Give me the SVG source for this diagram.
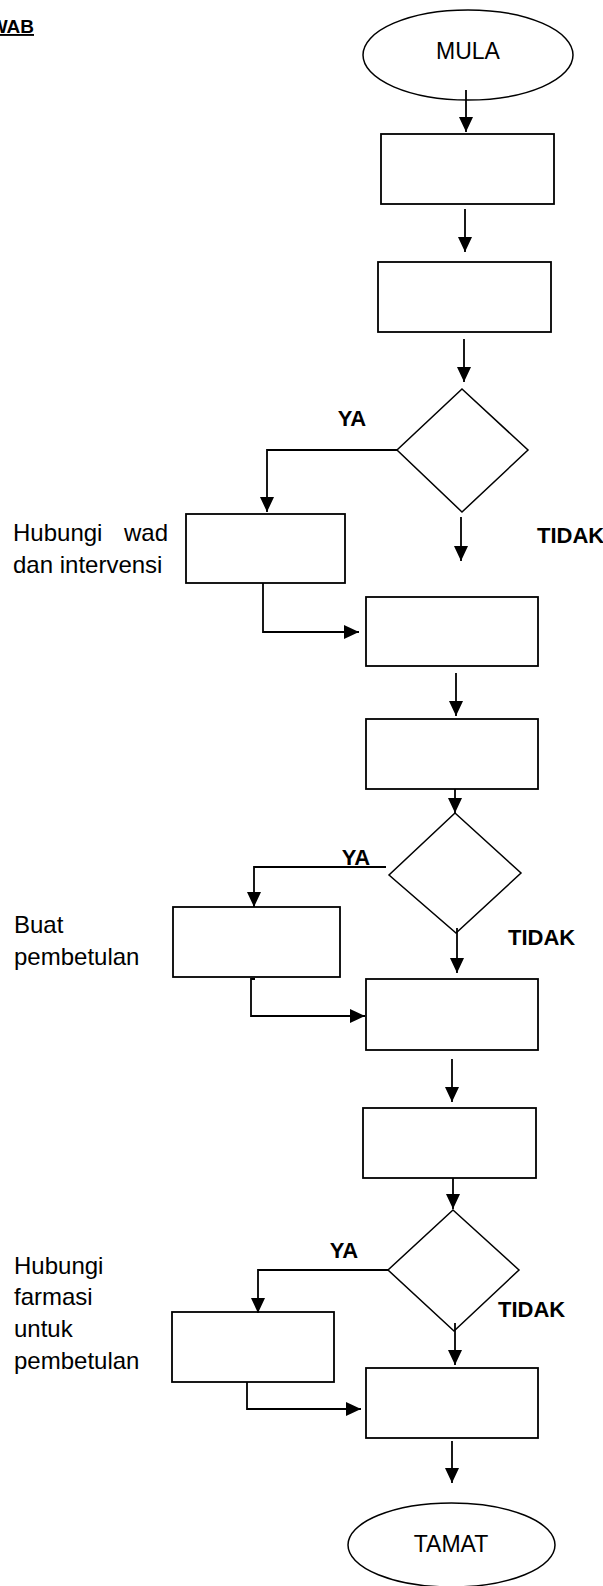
<svg xmlns="http://www.w3.org/2000/svg" width="603" height="1586" viewBox="0 0 603 1586">
<style>
.box{fill:#fff;stroke:#000;stroke-width:1.8}
.dia{fill:#fff;stroke:#000;stroke-width:1.5}
.term{fill:#fff;stroke:#000;stroke-width:1.5}
.con{fill:none;stroke:#000;stroke-width:1.8}
.t{font-family:"Liberation Sans",Arial,sans-serif;font-size:23px;fill:#000}
.side{font-family:"Liberation Sans",Arial,sans-serif;font-size:24px;fill:#000}
.b{font-family:"Liberation Sans",Arial,sans-serif;font-size:22px;font-weight:bold;fill:#000}
</style>
<defs>
<marker id="ah" markerUnits="userSpaceOnUse" markerWidth="16" markerHeight="15" refX="15" refY="7" orient="auto">
<path d="M0,0 L15,7 L0,14 z" fill="#000"/>
</marker>
</defs>
<rect width="603" height="1586" fill="#fff"/>
<text class="b" x="34" y="33" text-anchor="end" style="font-size:19px;text-decoration:underline">JAWAB</text>

<g id="mula"><ellipse class="term" cx="468" cy="55" rx="105" ry="45"/><text class="t" x="468" y="59" text-anchor="middle">MULA</text></g>
<g id="p1"><rect class="box" x="381" y="134" width="173" height="70"/></g>
<g id="p2"><rect class="box" x="378" y="262" width="173" height="70"/></g>
<g id="d1"><polygon class="dia" points="462,389 528,450 462,512 397,450"/></g>
<g id="hubungi-wad"><rect class="box" x="186" y="514" width="159" height="69"/></g>
<g id="p3"><rect class="box" x="366" y="597" width="172" height="69"/></g>
<g id="p4"><rect class="box" x="366" y="719" width="172" height="70"/></g>
<g id="d2"><polygon class="dia" points="455,813 521,873 456,933 389,875"/></g>
<g id="buat"><rect class="box" x="173" y="907" width="167" height="70"/></g>
<g id="p5"><rect class="box" x="366" y="979" width="172" height="71"/></g>
<g id="p6"><rect class="box" x="363" y="1108" width="173" height="70"/></g>
<g id="d3"><polygon class="dia" points="453,1210 519,1270 454,1331 388,1270"/></g>
<g id="hubungi-farmasi"><rect class="box" x="172" y="1312" width="162" height="70"/></g>
<g id="p7"><rect class="box" x="366" y="1368" width="172" height="70"/></g>
<g id="tamat"><ellipse class="term" cx="451.5" cy="1545" rx="103.5" ry="42"/><text class="t" x="451" y="1552" text-anchor="middle">TAMAT</text></g>

<g id="labels">
<text class="side" x="13" y="541">Hubungi</text>
<text class="side" x="168" y="541" text-anchor="end">wad</text>
<text class="side" x="13" y="573">dan intervensi</text>
<text class="side" x="14" y="933">Buat</text>
<text class="side" x="14" y="965">pembetulan</text>
<text class="side" x="14" y="1274">Hubungi</text>
<text class="side" x="14" y="1305">farmasi</text>
<text class="side" x="14" y="1337">untuk</text>
<text class="side" x="14" y="1369">pembetulan</text>
<text class="b" x="352" y="426" text-anchor="middle">YA</text>
<text class="b" x="356" y="865" text-anchor="middle">YA</text>
<text class="b" x="344" y="1258" text-anchor="middle">YA</text>
<text class="b" x="537" y="543">TIDAK</text>
<text class="b" x="508" y="945">TIDAK</text>
<text class="b" x="498" y="1317">TIDAK</text>
</g>

<g id="connectors">
<path class="con" d="M466,90 V132" marker-end="url(#ah)"/>
<path class="con" d="M465,209 V252" marker-end="url(#ah)"/>
<path class="con" d="M464,339 V382" marker-end="url(#ah)"/>
<path class="con" d="M397,450 H267 V512" marker-end="url(#ah)"/>
<path class="con" d="M461,517 V561" marker-end="url(#ah)"/>
<path class="con" d="M263,583 V632 H359" marker-end="url(#ah)"/>
<path class="con" d="M456,673 V716" marker-end="url(#ah)"/>
<path class="con" d="M455,789 V813" marker-end="url(#ah)"/>
<path class="con" d="M386,867 H254 V907" marker-end="url(#ah)"/>
<path class="con" d="M457,928 V973" marker-end="url(#ah)"/>
<path class="con" d="M255,979 H251 V1016 H365" marker-end="url(#ah)"/>
<path class="con" d="M452,1059 V1102" marker-end="url(#ah)"/>
<path class="con" d="M453,1178 V1209" marker-end="url(#ah)"/>
<path class="con" d="M388,1270 H258 V1313" marker-end="url(#ah)"/>
<path class="con" d="M455,1323 V1365" marker-end="url(#ah)"/>
<path class="con" d="M247,1382 V1409 H361" marker-end="url(#ah)"/>
<path class="con" d="M452,1441 V1483" marker-end="url(#ah)"/>
</g>
</svg>
